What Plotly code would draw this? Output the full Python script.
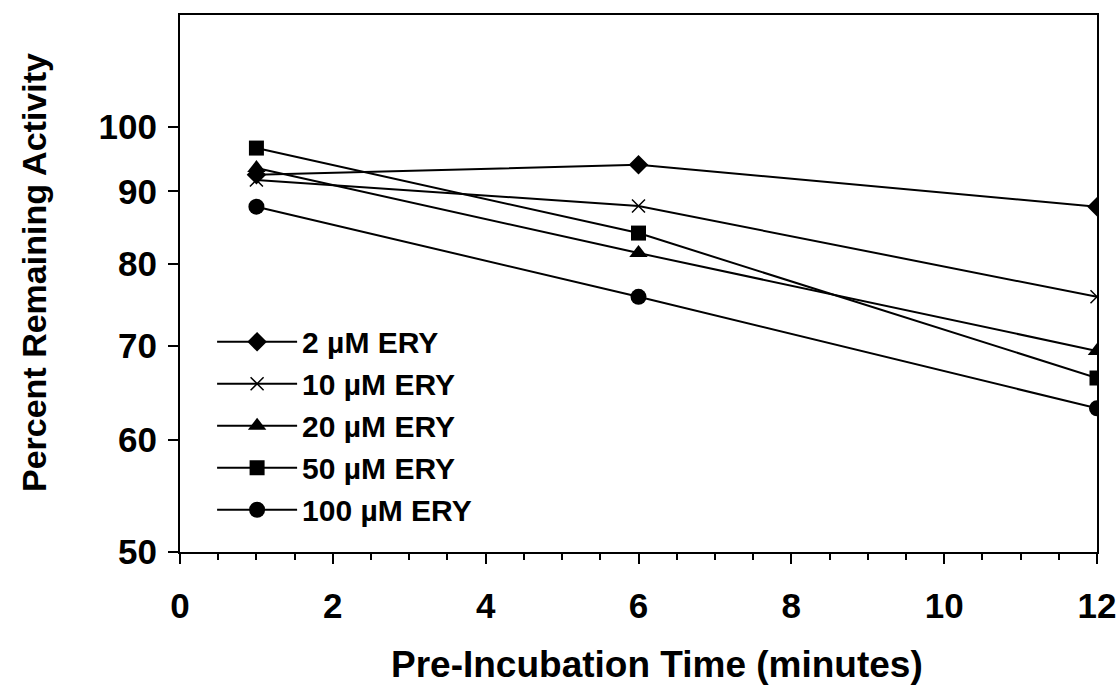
import plotly.graph_objects as go

time_min = [1, 6, 12]
series_names = ["2 \u00b5M ERY", "10 \u00b5M ERY", "20 \u00b5M ERY", "50 \u00b5M ERY", "100 \u00b5M ERY"]
ery_2 = [92.5, 94.0, 87.8]
ery_10 = [91.7, 87.9, 75.8]
ery_20 = [93.5, 81.4, 69.4]
ery_50 = [96.6, 84.1, 66.4]
ery_100 = [87.8, 75.8, 63.2]
y_tick_vals = [50, 60, 70, 80, 90, 100]
x_tick_vals = [0, 2, 4, 6, 8, 10, 12]
x_title = "Pre-Incubation Time (minutes)"
y_title = "Percent Remaining Activity"

series = [ery_2, ery_10, ery_20, ery_50, ery_100]
symbols = ["diamond", "x-thin", "triangle-up", "square", "circle"]
sizes = [15, 13, 16, 15, 16]

FONT = "Liberation Sans, Arial, sans-serif"

fig = go.Figure()
for name, vals, sym, sz in zip(series_names, series, symbols, sizes):
    marker = dict(symbol=sym, size=sz, color="black")
    if sym == "x-thin":
        marker["line"] = dict(color="black", width=1.5)
    fig.add_trace(go.Scatter(
        x=time_min, y=vals, name=name, mode="lines+markers",
        line=dict(color="black", width=2), marker=marker,
    ))

fig.update_layout(
    width=1119, height=694,
    margin=dict(l=180, r=22, t=15, b=142, autoexpand=False),
    paper_bgcolor="white", plot_bgcolor="white",
    font=dict(family=FONT, color="black", size=30),
    showlegend=True,
    legend=dict(
        x=0.035, y=0.44, xanchor="left", yanchor="top",
        bgcolor="rgba(0,0,0,0)", itemwidth=80,
        font=dict(family=FONT, size=30, weight="bold"),
        tracegroupgap=0,
    ),
    annotations=[
        dict(text=x_title, xref="paper", yref="paper", x=0.52, y=-0.21,
             xanchor="center", yanchor="middle", showarrow=False,
             font=dict(family=FONT, size=37, weight="bold")),
        dict(text=y_title, xref="paper", yref="paper", x=-0.16, y=0.52,
             xanchor="center", yanchor="middle", showarrow=False, textangle=-90,
             font=dict(family=FONT, size=34, weight="bold")),
    ],
)
fig.update_xaxes(
    range=[0, 12], tickvals=x_tick_vals, automargin=False,
    showline=True, linecolor="black", linewidth=2, mirror=True,
    ticks="outside", ticklen=10, tickwidth=2, tickcolor="black",
    minor=dict(dtick=0.5, ticks="outside", ticklen=6, tickwidth=1.5, tickcolor="black"),
    showgrid=False, zeroline=False,
    tickfont=dict(family=FONT, size=35, weight="bold"),
    ticklabelstandoff=12,
)
fig.update_yaxes(
    type="log", range=[1.69897, 2.0792], automargin=False,
    tickvals=y_tick_vals, ticktext=[str(v) for v in y_tick_vals],
    showline=True, linecolor="black", linewidth=2, mirror=True,
    ticks="outside", ticklen=10, tickwidth=2, tickcolor="black",
    showgrid=False, zeroline=False,
    tickfont=dict(family=FONT, size=35, weight="bold"),
    ticklabelstandoff=4,
)

fig.write_html("out.html")
